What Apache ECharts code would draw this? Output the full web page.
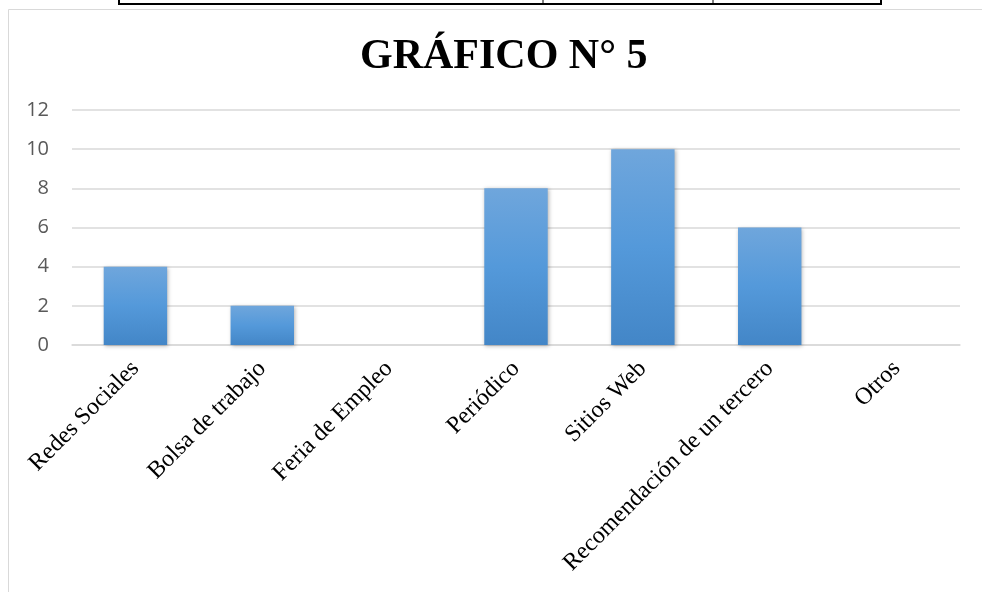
<!DOCTYPE html>
<html><head><meta charset="utf-8">
<script src="https://cdn.jsdelivr.net/npm/echarts@6/dist/echarts.min.js"></script>
<style>html,body{margin:0;padding:0;background:#fff}#c{width:982px;height:592px}</style>
</head><body><div id="c"></div>
<script>
const categories = ["Redes Sociales","Bolsa de trabajo","Feria de Empleo","Periódico","Sitios Web","Recomendación de un tercero","Otros"];
const values = [4, 2, 0, 8, 10, 6, 0];
const titleText = "GRÁFICO N° 5";

const chart = echarts.init(document.getElementById('c'));
chart.setOption({
  animation: false,
  backgroundColor: '#fff',
  title: {
    text: titleText, left: 355, top: 31,
    textStyle: {fontFamily: 'Liberation Serif', fontWeight: 'bold', fontSize: 42, color: '#000'}
  },
  graphic: [
    {type: 'rect', shape: {x: 8.5, y: 9.5, width: 990, height: 600}, style: {fill: 'none', stroke: '#d9d9d9', lineWidth: 1}, silent: true},
    {type: 'line', shape: {x1: 118, y1: 4, x2: 882, y2: 4}, style: {stroke: '#000', lineWidth: 2}},
    {type: 'line', shape: {x1: 119, y1: 0, x2: 119, y2: 4}, style: {stroke: '#000', lineWidth: 2}},
    {type: 'line', shape: {x1: 543, y1: 0, x2: 543, y2: 4}, style: {stroke: '#000', lineWidth: 1}},
    {type: 'line', shape: {x1: 713, y1: 0, x2: 713, y2: 4}, style: {stroke: '#000', lineWidth: 1}},
    {type: 'line', shape: {x1: 881, y1: 0, x2: 881, y2: 4}, style: {stroke: '#000', lineWidth: 2}}
  ],
  grid: {left: 72, right: 22, top: 110, bottom: 247, containLabel: false},
  xAxis: {
    type: 'category', data: categories,
    axisLine: {lineStyle: {color: '#d9d9d9', width: 1.5}},
    axisTick: {show: false},
    axisLabel: {rotate: 45, interval: 0, margin: 20, fontFamily: 'Liberation Serif', fontSize: 24, color: '#000'}
  },
  yAxis: {
    type: 'value', min: 0, max: 12, interval: 2,
    axisLine: {show: false}, axisTick: {show: false},
    splitLine: {lineStyle: {color: '#d9d9d9', width: 1.5}},
    axisLabel: {margin: 23, fontFamily: 'Open Sans', fontSize: 20, color: '#595959'}
  },
  series: [{
    type: 'bar', data: values, barWidth: '50%',
    itemStyle: {
      color: new echarts.graphic.LinearGradient(0, 0, 0, 1, [
        {offset: 0, color: '#6fa6dc'}, {offset: 0.5, color: '#5499da'}, {offset: 1, color: '#4386c7'}
      ]),
      shadowColor: 'rgba(0,0,0,0.3)', shadowBlur: 4, shadowOffsetX: 1, shadowOffsetY: 1
    }
  }]
});
</script></body></html>
